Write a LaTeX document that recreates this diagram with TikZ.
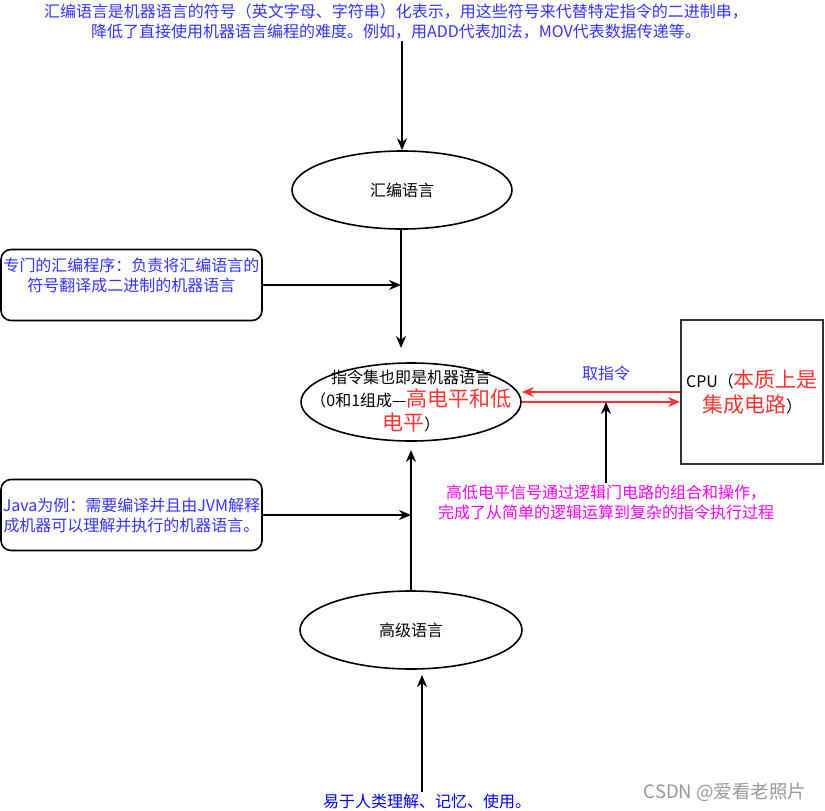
\documentclass[tikz,border=0pt]{standalone}
\usepackage{fontspec}
\setmainfont{Noto Sans CJK SC}
\usetikzlibrary{shapes.geometric,arrows.meta}
\definecolor{noteblue}{HTML}{3333FF}
\definecolor{pureblue}{HTML}{0000FF}
\definecolor{hotred}{HTML}{FF3333}
\definecolor{gatepink}{HTML}{FF00FF}
\newcommand\hot[1]{{\color{hotred}\fontsize{21}{24}\selectfont #1}}
\begin{document}
\begin{tikzpicture}%
[x=1pt,y=-1pt,%
txt/.style={font=\fontsize{16}{20}\selectfont, align=center, inner sep=1pt},%
oval/.style={draw, ellipse, line width=1.6pt, minimum width=220pt, minimum height=78pt, inner sep=0pt},%
note/.style={draw, txt, text=noteblue, rounded corners=10pt, line width=1.6pt, minimum width=261pt, minimum height=71pt},%
arr/.style={-{Stealth[length=12pt,width=10pt]}, line width=1.8pt},%
redarr/.style={arr, draw=hotred}]
\useasboundingbox (0,0) rectangle (825,811);
% ellipses
\node[oval, txt] (asm) at (402,190) {汇编语言};
\node[oval] (isa) at (411,402) {};
\node[txt, font=\fontsize{16}{23.5}\selectfont] (isatext) at (411,401)
  {指令集也即是机器语言\\（0和1组成—\hot{高电平和低}\\\hot{电平}）};
\node[oval, txt, minimum width=222pt] (hll) at (411,630) {高级语言};
% boxes
\node[note] (asmbox) at (131.5,285) {专门的汇编程序：负责将汇编语言的\\符号翻译成二进制的机器语言\\~};
\node[note] (javabox) at (131.5,515) {Java为例：需要编译并且由JVM解释\\成机器可以理解并执行的机器语言。};
\node[draw=black!80, line width=2pt, minimum width=142pt, minimum height=144pt, txt,
  font=\fontsize{16}{25}\selectfont] (cpu) at (752,392) {CPU（\hot{本质上是}\\\hot{集成电路}）};
% notes
\node[txt, text=noteblue] (asmnote) at (396,22) {汇编语言是机器语言的符号（英文字母、字符串）化表示，用这些符号来代替特定指令的二进制串，\\降低了直接使用机器语言编程的难度。例如，用ADD代表加法，MOV代表数据传递等。};
\node[txt, text=noteblue] (fetch) at (606,373) {取指令};
\node[txt, text=gatepink] (gates) at (606,502) {高低电平信号通过逻辑门电路的组合和操作，\\完成了从简单的逻辑运算到复杂的指令执行过程};
\node[txt, text=pureblue] (hllnote) at (427,801) {易于人类理解、记忆、使用。};
\node[txt, text=black!40, font=\fontsize{18.5}{20}\selectfont] (mark) at (725,792) {CSDN @爱看老照片};
% arrow ends
\coordinate (isatop) at (401,348);
\coordinate (isabot) at (411,450);
\coordinate (hllin) at (422,675);
% connectors
\draw[arr] (asm.north |- asmnote.south) -- (asm.north);
\draw[arr] (asm.south -| isatop) -- (isatop);
\draw[arr] (asmbox.east) -- (asmbox.east -| isatop);
\draw[arr] (hll.north) -- (isabot);
\draw[arr] (javabox.east) -- (javabox.east -| isabot);
\draw[arr] (hllnote.north -| hllin) -- (hllin);
\draw[redarr] (cpu.west) -- (cpu.west -| isa.east);
\draw[redarr] (isa.east) -- (isa.east -| cpu.west);
\draw[arr] (gates.north) -- (gates.north |- isa.east);
\end{tikzpicture}
\end{document}
